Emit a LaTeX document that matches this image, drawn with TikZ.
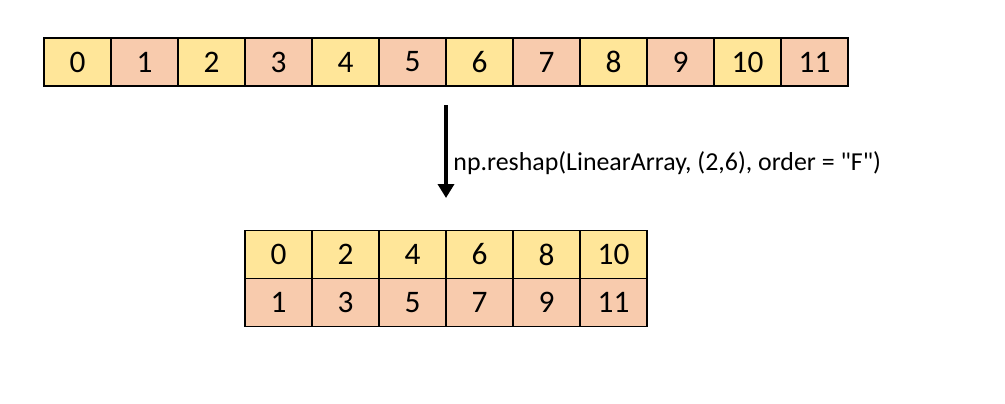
\documentclass[tikz,border=0pt]{standalone}
\usepackage{fontspec}
\setmainfont{Carlito}[Ligatures=TeXOff]
\usepackage{tikz}
\usetikzlibrary{arrows.meta}

\definecolor{cellyellow}{HTML}{FFE699}
\definecolor{cellorange}{HTML}{F8CBAD}

\begin{document}
\begin{tikzpicture}[x=0.75pt, y=-0.75pt]
		\tikzstyle{cell} = [rectangle, minimum width = 50.25pt, minimum height = 36pt, inner sep = 0pt, line width = 0.8pt, draw=black, font = \fontsize{23.5}{28}\selectfont]
		\tikzstyle{even} = [cell, fill = cellyellow]
		\tikzstyle{odd} = [cell, fill = cellorange]
		\useasboundingbox (0,0) rectangle (1005,403);
		
		% linear array
		\node[even] at (77.5, 62) (a0) {0};
		\node[odd] at (144.5, 62) (a1) {1};
		\node[even] at (211.5, 62) (a2) {2};
		\node[odd] at (278.5, 62) (a3) {3};
		\node[even] at (345.5, 62) (a4) {4};
		\node[odd] at (412.5, 62) (a5) {5};
		\node[even] at (479.5, 62) (a6) {6};
		\node[odd] at (546.5, 62) (a7) {7};
		\node[even] at (613.5, 62) (a8) {8};
		\node[odd] at (680.5, 62) (a9) {9};
		\node[even] at (747.5, 62) (a10) {10};
		\node[odd] at (814.5, 62) (a11) {11};
		
		% reshaped array, column order
		\node[even] at (278.5, 254.5) (b0) {0};
		\node[even] at (345.5, 254.5) (b2) {2};
		\node[even] at (412.5, 254.5) (b4) {4};
		\node[even] at (479.5, 254.5) (b6) {6};
		\node[even] at (546.5, 254.5) (b8) {8};
		\node[even] at (613.5, 254.5) (b10) {10};
		
		\node[odd] at (278.5, 302.5) (b1) {1};
		\node[odd] at (345.5, 302.5) (b3) {3};
		\node[odd] at (412.5, 302.5) (b5) {5};
		\node[odd] at (479.5, 302.5) (b7) {7};
		\node[odd] at (546.5, 302.5) (b9) {9};
		\node[odd] at (613.5, 302.5) (b11) {11};
		
		\coordinate (start) at (446, 105);
		\coordinate (stop) at (446, 198);
		\draw[-{Triangle[width = 12pt, length = 10.5pt]}, line width = 3.2pt] (start) -- (stop) node[pos = 0.62, anchor = west, inner sep = 0pt, xshift = 4pt, font = \fontsize{19.4}{23}\selectfont] (call) {np.reshap(LinearArray, (2,6), order = "F")};
		\end{tikzpicture}
\end{document}
